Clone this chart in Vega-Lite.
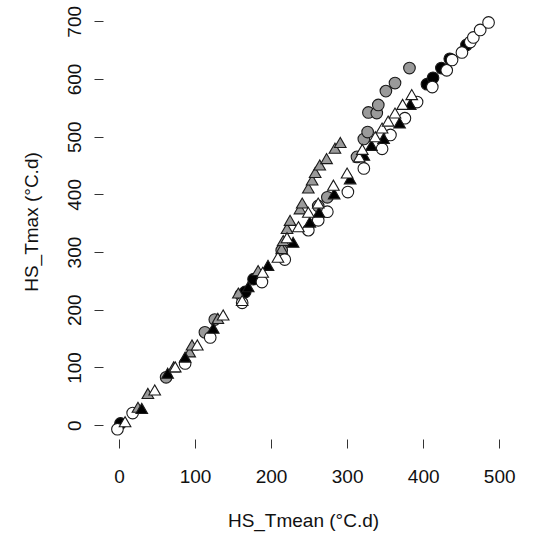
{
  "$schema": "https://vega.github.io/schema/vega-lite/v6.json",
  "width": 400,
  "height": 435,
  "autosize": {"type": "none"},
  "padding": {"left": 103, "top": 4, "right": 46, "bottom": 95},
  "background": "white",
  "config": {
    "view": {"stroke": null},
    "font": "Liberation Sans",
    "axis": {"grid": false, "domain": false, "tickColor": "#333", "tickWidth": 1, "tickSize": 9,
             "labelFont": "Liberation Sans", "labelFontSize": 19, "labelColor": "#111",
             "titleFont": "Liberation Sans", "titleFontSize": 19, "titleFontWeight": "normal", "titleColor": "#111"}
  },
  "datasets": {
    "pts": [
      {"g": "g3", "x": 62, "y": 83}, {"g": "g3", "x": 113, "y": 161}, {"g": "g3", "x": 126, "y": 183},
      {"g": "g3", "x": 214, "y": 303}, {"g": "g3", "x": 274, "y": 395}, {"g": "g3", "x": 313, "y": 465},
      {"g": "g3", "x": 322, "y": 496}, {"g": "g3", "x": 327, "y": 508}, {"g": "g3", "x": 328, "y": 542},
      {"g": "g3", "x": 339, "y": 541}, {"g": "g3", "x": 341, "y": 555}, {"g": "g3", "x": 351, "y": 579},
      {"g": "g3", "x": 363, "y": 593}, {"g": "g3", "x": 382, "y": 619}, {"g": "g3", "x": 160, "y": 226},
      {"g": "g3", "x": 262, "y": 380},
      {"g": "g2", "x": 166, "y": 231}, {"g": "g2", "x": 177, "y": 253}, {"g": "g2", "x": 405, "y": 591},
      {"g": "g2", "x": 413, "y": 602}, {"g": "g2", "x": 424, "y": 619}, {"g": "g2", "x": 435, "y": 635},
      {"g": "g2", "x": 457, "y": 659}, {"g": "g2", "x": 2, "y": 3},
      {"g": "g1", "x": -2, "y": -7}, {"g": "g1", "x": 18, "y": 21}, {"g": "g1", "x": 87, "y": 107},
      {"g": "g1", "x": 120, "y": 152}, {"g": "g1", "x": 162, "y": 212}, {"g": "g1", "x": 188, "y": 248},
      {"g": "g1", "x": 218, "y": 287}, {"g": "g1", "x": 249, "y": 338}, {"g": "g1", "x": 262, "y": 355},
      {"g": "g1", "x": 274, "y": 370}, {"g": "g1", "x": 301, "y": 404}, {"g": "g1", "x": 322, "y": 445},
      {"g": "g1", "x": 346, "y": 479}, {"g": "g1", "x": 357, "y": 503}, {"g": "g1", "x": 376, "y": 532},
      {"g": "g1", "x": 392, "y": 560}, {"g": "g1", "x": 412, "y": 586}, {"g": "g1", "x": 431, "y": 615},
      {"g": "g1", "x": 438, "y": 633}, {"g": "g1", "x": 451, "y": 646}, {"g": "g1", "x": 462, "y": 664},
      {"g": "g1", "x": 466, "y": 672}, {"g": "g1", "x": 475, "y": 685}, {"g": "g1", "x": 486, "y": 698},
      {"g": "g6", "x": 25, "y": 31}, {"g": "g6", "x": 38, "y": 55}, {"g": "g6", "x": 72, "y": 101},
      {"g": "g6", "x": 93, "y": 127}, {"g": "g6", "x": 96, "y": 139}, {"g": "g6", "x": 130, "y": 185},
      {"g": "g6", "x": 157, "y": 229}, {"g": "g6", "x": 183, "y": 268}, {"g": "g6", "x": 214, "y": 306},
      {"g": "g6", "x": 221, "y": 341}, {"g": "g6", "x": 225, "y": 355}, {"g": "g6", "x": 238, "y": 375},
      {"g": "g6", "x": 241, "y": 385}, {"g": "g6", "x": 249, "y": 411}, {"g": "g6", "x": 254, "y": 425},
      {"g": "g6", "x": 258, "y": 438}, {"g": "g6", "x": 264, "y": 451}, {"g": "g6", "x": 273, "y": 462},
      {"g": "g6", "x": 284, "y": 480}, {"g": "g6", "x": 291, "y": 490}, {"g": "g6", "x": 216, "y": 320},
      {"g": "g5", "x": 30, "y": 29}, {"g": "g5", "x": 64, "y": 90}, {"g": "g5", "x": 87, "y": 118},
      {"g": "g5", "x": 124, "y": 168}, {"g": "g5", "x": 196, "y": 277}, {"g": "g5", "x": 229, "y": 317},
      {"g": "g5", "x": 251, "y": 352}, {"g": "g5", "x": 263, "y": 369}, {"g": "g5", "x": 283, "y": 401},
      {"g": "g5", "x": 304, "y": 427}, {"g": "g5", "x": 322, "y": 468}, {"g": "g5", "x": 332, "y": 485},
      {"g": "g5", "x": 348, "y": 497}, {"g": "g5", "x": 369, "y": 524}, {"g": "g5", "x": 383, "y": 556},
      {"g": "g5", "x": 170, "y": 240},
      {"g": "g4", "x": 8, "y": 6}, {"g": "g4", "x": 47, "y": 61}, {"g": "g4", "x": 74, "y": 101},
      {"g": "g4", "x": 103, "y": 139}, {"g": "g4", "x": 137, "y": 191}, {"g": "g4", "x": 162, "y": 216},
      {"g": "g4", "x": 189, "y": 265}, {"g": "g4", "x": 209, "y": 291}, {"g": "g4", "x": 221, "y": 325},
      {"g": "g4", "x": 236, "y": 344}, {"g": "g4", "x": 249, "y": 369}, {"g": "g4", "x": 262, "y": 385},
      {"g": "g4", "x": 282, "y": 416}, {"g": "g4", "x": 300, "y": 437}, {"g": "g4", "x": 316, "y": 465},
      {"g": "g4", "x": 320, "y": 478}, {"g": "g4", "x": 337, "y": 500}, {"g": "g4", "x": 346, "y": 515},
      {"g": "g4", "x": 354, "y": 527}, {"g": "g4", "x": 363, "y": 541}, {"g": "g4", "x": 373, "y": 556},
      {"g": "g4", "x": 385, "y": 573}
    ]
  },
  "layer": [
    {
      "data": {"name": "pts"},
      "mark": {"type": "point", "filled": true, "stroke": "#1a1a1a", "strokeWidth": 1.1, "opacity": 1},
      "encoding": {
        "x": {"field": "x", "type": "quantitative",
              "scale": {"domain": [-21, 505], "nice": false, "zero": false},
              "axis": {"values": [0, 100, 200, 300, 400, 500], "title": "HS_Tmean (°C.d)",
                       "labelPadding": 19, "titlePadding": 25, "labelFlush": false}},
        "y": {"field": "y", "type": "quantitative",
              "scale": {"domain": [-24, 730], "nice": false, "zero": false},
              "axis": {"values": [0, 100, 200, 300, 400, 500, 600, 700], "title": "HS_Tmax (°C.d)",
                       "labelAngle": -90, "labelAlign": "center", "labelBaseline": "bottom",
                       "labelPadding": 10, "titlePadding": 24, "labelFlush": false}},
        "shape": {"field": "g", "type": "nominal", "legend": null,
                  "scale": {"domain": ["g1", "g2", "g3", "g4", "g5", "g6"],
                            "range": ["circle", "circle", "circle", "triangle-up", "triangle-up", "triangle-up"]}},
        "fill": {"field": "g", "type": "nominal", "legend": null,
                 "scale": {"domain": ["g1", "g2", "g3", "g4", "g5", "g6"],
                           "range": ["#ffffff", "#000000", "#9a9a9a", "#ffffff", "#000000", "#9a9a9a"]}},
        "size": {"field": "g", "type": "nominal", "legend": null,
                 "scale": {"domain": ["g1", "g2", "g3", "g4", "g5", "g6"],
                           "range": [135, 135, 135, 195, 195, 195]}}
      }
    },
    {
      "mark": {"type": "rule", "color": "#333", "strokeWidth": 1},
      "encoding": {"x": {"datum": 0}, "x2": {"datum": 500}, "y": {"datum": -24}}
    },
    {
      "mark": {"type": "rule", "color": "#333", "strokeWidth": 1},
      "encoding": {"x": {"datum": -21}, "y": {"datum": 0}, "y2": {"datum": 700}}
    }
  ]
}
